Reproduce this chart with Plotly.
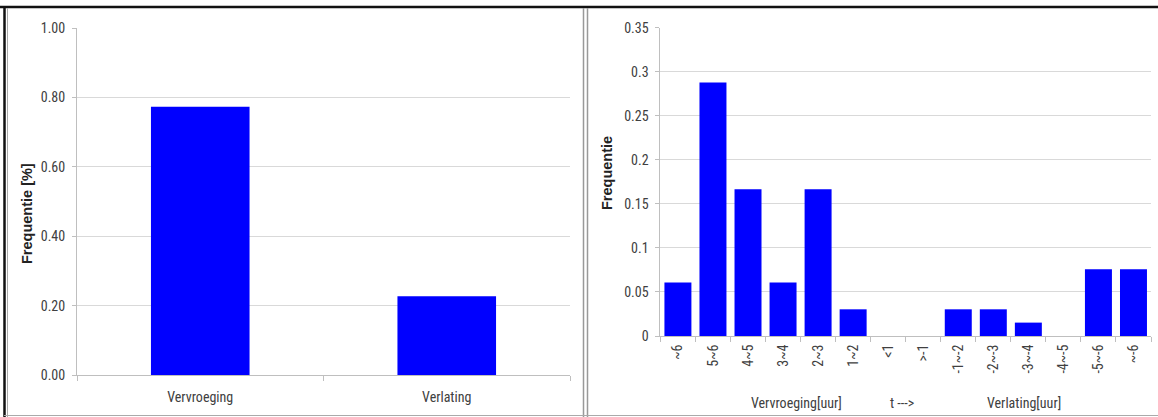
import plotly.graph_objects as go

# ---- data ----
left_categories = ["Vervroeging", "Verlating"]
left_values = [0.773, 0.227]

right_categories = ["~6", "5~6", "4~5", "3~4", "2~3", "1~2", "<1", ">-1",
                    "-1~-2", "-2~-3", "-3~-4", "-4~-5", "-5~-6", "~-6"]
right_values = [0.0606, 0.2879, 0.1667, 0.0606, 0.1667, 0.0303, 0.0, 0.0,
                0.0303, 0.0303, 0.0152, 0.0, 0.0758, 0.0758]

left_yticks = [0, 0.2, 0.4, 0.6, 0.8, 1.0]
right_yticks = [0, 0.05, 0.1, 0.15, 0.2, 0.25, 0.3, 0.35]

W, H = 1158, 417
FONT = "Liberation Sans Narrow, Arial Narrow, Roboto Condensed, Liberation Sans, sans-serif"
TICKCOL = "#404040"
GRID = "#d9d9d9"
AXIS = "#bfbfbf"
BLUE = "#0000ff"

def px(x):
    return x / W

def py(y):
    return (H - y) / H

fig = go.Figure()
fig.add_trace(go.Bar(x=left_categories, y=left_values, marker=dict(color=BLUE, line=dict(width=0)),
                     xaxis="x", yaxis="y", showlegend=False))
fig.add_trace(go.Bar(x=right_categories, y=right_values, marker=dict(color=BLUE, line=dict(width=0)),
                     xaxis="x2", yaxis="y2", showlegend=False, width=0.77))

common_y = dict(showgrid=True, gridcolor=GRID, gridwidth=1, showline=True, linecolor=AXIS,
                ticks="outside", ticklen=4, tickcolor=AXIS, zeroline=False, automargin=False,
                ticklabelstandoff=4,
                tickfont=dict(family=FONT, size=14, color=TICKCOL))
common_x = dict(showline=True, linecolor=AXIS, ticks="outside", ticklen=5, tickcolor=AXIS,
                tickson="boundaries", showgrid=False, type="category", automargin=False,
                tickfont=dict(family=FONT, size=14, color=TICKCOL))

fig.update_layout(
    template="none",
    width=W, height=H, autosize=False,
    margin=dict(l=0, r=0, t=0, b=0, pad=0),
    paper_bgcolor="white", plot_bgcolor="white",
    bargap=0.6,
    xaxis=dict(domain=[px(77), px(570)], anchor="y", ticklabelstandoff=9, **common_x),
    yaxis=dict(domain=[py(375), py(28)], anchor="x", range=[0, 1.0], tickvals=left_yticks,
               tickformat=".2f", **common_y),
    xaxis2=dict(domain=[px(660.4), px(1151)], anchor="y2", tickangle=-90,
                ticklabelstandoff=2, **common_x),
    yaxis2=dict(domain=[py(336), py(27.7)], anchor="x2", range=[0, 0.35], tickvals=right_yticks,
                **common_y),
)

annos = [
    dict(text="<b>Frequentie [%]</b>", x=px(27), y=py(214), textangle=-90,
         font=dict(family="Liberation Sans, Arial, sans-serif", size=14.5, color="#222")),
    dict(text="<b>Frequentie</b>", x=px(607), y=py(173), textangle=-90,
         font=dict(family="Liberation Sans, Arial, sans-serif", size=14.5, color="#222")),
    dict(text="Vervroeging[uur]", x=px(796), y=py(403),
         font=dict(family=FONT, size=14, color=TICKCOL)),
    dict(text="t --->", x=px(902), y=py(403),
         font=dict(family=FONT, size=14, color=TICKCOL)),
    dict(text="Verlating[uur]", x=px(1024), y=py(403),
         font=dict(family=FONT, size=14, color=TICKCOL)),
]
for a in annos:
    fig.add_annotation(xref="paper", yref="paper", showarrow=False, xanchor="center",
                       yanchor="middle", **a)

shapes = [
    # top black border
    dict(type="line", x0=0, x1=1, y0=py(7), y1=py(7), line=dict(color="#111", width=2.5)),
    # left black border
    dict(type="line", x0=px(4.5), x1=px(4.5), y0=py(7), y1=0, line=dict(color="#111", width=2.5)),
    dict(type="line", x0=px(7.5), x1=px(7.5), y0=py(8), y1=0, line=dict(color="#aaa", width=1)),
    # middle double gray border
    dict(type="line", x0=px(583.5), x1=px(583.5), y0=py(8), y1=0, line=dict(color="#999", width=1.5)),
    dict(type="line", x0=px(587.5), x1=px(587.5), y0=py(8), y1=0, line=dict(color="#999", width=1.5)),
    # bottom gray line
    dict(type="line", x0=px(4), x1=1, y0=py(415.5), y1=py(415.5), line=dict(color="#aaa", width=1)),
]
for s in shapes:
    fig.add_shape(xref="paper", yref="paper", **s)

post = """
document.documentElement.style.margin='0';
document.documentElement.style.overflow='hidden';
document.body.style.margin='0';
document.body.style.overflow='hidden';
"""

fig.write_html("out.html", config={"displayModeBar": False}, post_script=post)
